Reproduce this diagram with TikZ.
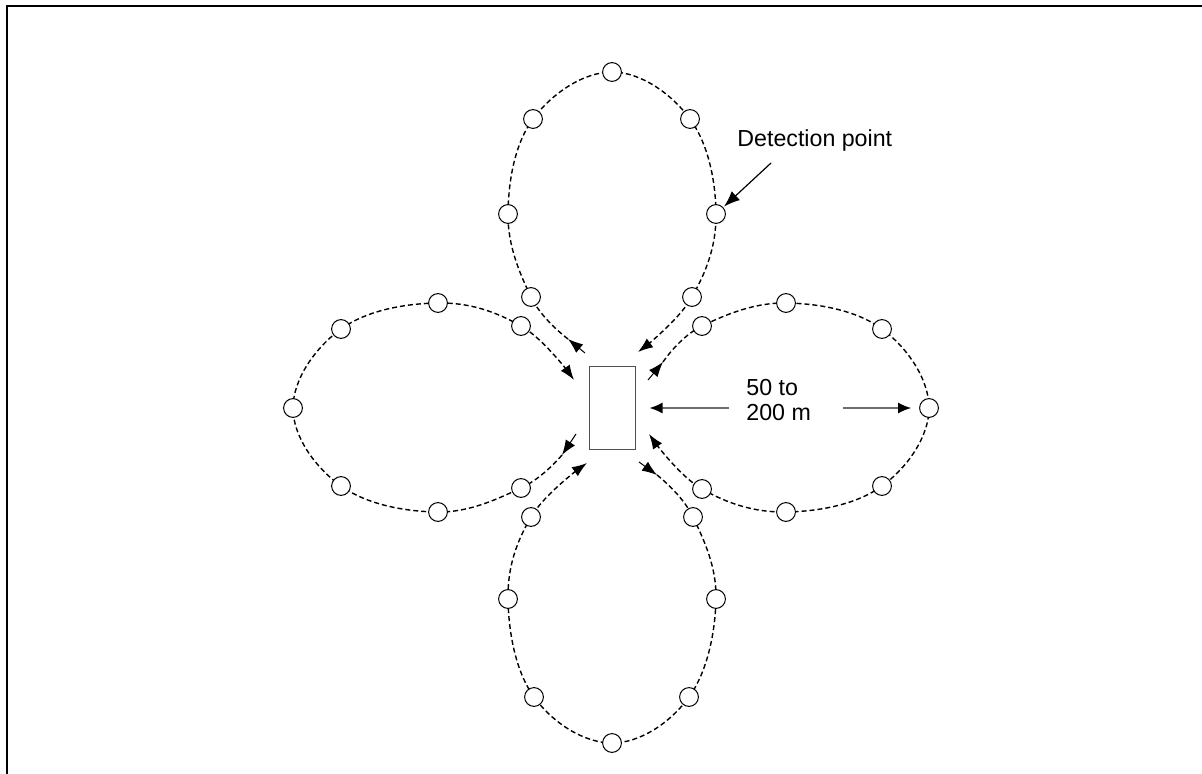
\documentclass[tikz,border=0pt]{standalone}
\usepackage{fontspec}
\setmainfont{Liberation Sans}
\usetikzlibrary{arrows.meta,backgrounds}
\definecolor{dpInk}{HTML}{000000}
\definecolor{dpGrey}{HTML}{6E6E6E}
\definecolor{dpHub}{HTML}{505050}
\tikzset{
    >=Latex,
    every picture/.style={font=\fontsize{11.6}{12.5}\selectfont},
    sensor/.style={circle, draw=dpInk, line width=0.5pt, fill=white, minimum size=9.4pt, inner sep=0pt},
    hub/.style={draw=dpHub, line width=0.5pt, fill=white, minimum width=23pt, minimum height=41pt, inner sep=0pt},
    loopline/.style={dash pattern=on 2.5pt off 1.5pt, line width=0.7pt, draw=dpInk},
    inarrow/.style={-{Latex[length=7.5pt,width=5.5pt]}},
    outarrow/.style={-{Latex[length=7.5pt,width=5.5pt]}, line width=0.5pt, draw=dpInk},
    dimarrow/.style={-{Latex[length=6.5pt,width=5.5pt,color=dpInk]}, line width=0.7pt, draw=dpGrey},
    callout/.style={-{Latex[length=8pt,width=6pt]}, line width=0.6pt, draw=dpInk}
}
\begin{document}
\begin{tikzpicture}[x=0.5pt, y=-0.5pt]
\useasboundingbox (0,0) rectangle (1202,774);
\draw[line width=1pt] (7,774) -- (7,6) -- (1202,6);

\node[hub] (hub) at (612,408) {};

% detection points of the four loops
\foreach \n/\x/\y in {t1/531/297, t2/508/214, t3/533/119, t4/612/72, t5/690/119, t6/716/214, t7/692/297,
                      r1/702/326, r2/786/303, r3/882/329, r4/929/408, r5/882/486, r6/786/512, r7/702/489,
                      b1/693/517, b2/716/599, b3/689/697, b4/612/743, b5/534/697, b6/508/599, b7/531/517,
                      l1/521/488, l2/438/512, l3/341/486, l4/293/408, l5/341/329, l6/438/303, l7/521/326}
  \node[sensor] (\n) at (\x,\y) {};

% ends of the loops at the hub
\foreach \n/\x/\y in {ts/585/353, t0/568/339, t8/638/352,
                      rs/648/380, r0/663/362, r8/649/434,
                      bs/639/462, b0/657/475, b8/587/463,
                      ls/576/434, l0/562/455, l8/574/380}
  \coordinate (\n) at (\x,\y);

\begin{scope}[on background layer]
\foreach \lp in {t,r,b,l}{
  \draw[outarrow] (\lp s) -- (\lp0);
  \draw[loopline, inarrow] plot[smooth, tension=0.65] coordinates {(\lp0) (\lp1) (\lp2) (\lp3) (\lp4) (\lp5) (\lp6) (\lp7) (\lp8)};
}
\end{scope}

% loop length
\node[anchor=base west, align=left, inner sep=0pt] (span) at (746,420) {50 to\\200 m};
\coordinate (spanl) at (729,408);
\coordinate (spanr) at (843,408);
\draw[dimarrow] (spanl) -- ([xshift=7pt]hub.east);
\draw[dimarrow, shorten >=4pt] (spanr) -- (r4);

\node[anchor=base west, inner sep=0pt] (dlabel) at (737,147) {Detection point};
\coordinate (dfoot) at (771,163);
\draw[callout, shorten >=0.5pt] (dfoot) -- (t6);
\end{tikzpicture}
\end{document}
